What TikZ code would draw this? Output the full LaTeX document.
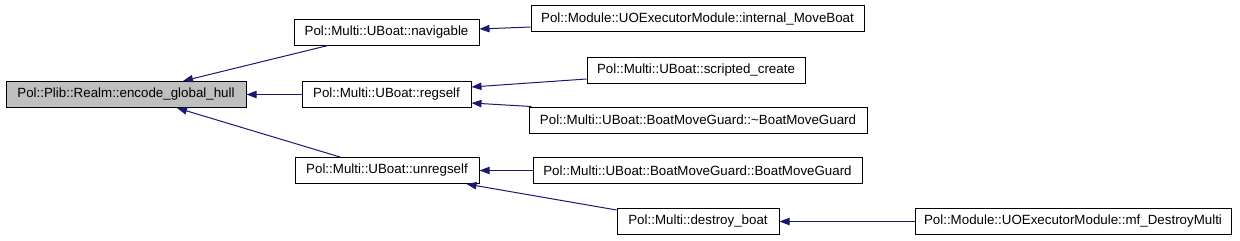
\documentclass[tikz,border=0pt]{standalone}
\usepackage{fontspec}
\setmainfont{Liberation Sans}
\usepackage{xcolor}
\usetikzlibrary{arrows.meta,calc}
\definecolor{edgeblue}{HTML}{191970}
\definecolor{hullgray}{HTML}{BFBFBF}

\begin{document}
\begin{tikzpicture}[x=0.75pt, y=-0.75pt, >={Triangle[length=7.5pt,width=5.5pt]},
  fn/.style={draw, rectangle, line width=0.75pt, minimum height=19.5pt, inner sep=0pt, font=\fontsize{10}{12}\selectfont},
  call/.style={draw=edgeblue, fill=none, line width=0.75pt, ->, >={Triangle[length=7.5pt,width=5.5pt,fill=edgeblue]}}]
  \useasboundingbox (0,0) rectangle (1240,240);
  \node[fn, fill=hullgray, minimum width=180pt](hull) at (126,94.5){Pol::Plib::Realm::encode\_global\_hull};
  \node[fn, minimum width=138.75pt](nav) at (386.5,32){Pol::Multi::UBoat::navigable};
  \node[fn, minimum width=126.75pt](reg) at (386.5,94.5){Pol::Multi::UBoat::regself};
  \node[fn, minimum width=138pt](unreg) at (387,170.5){Pol::Multi::UBoat::unregself};
  \node[fn, minimum width=249.75pt](moveboat) at (697.5,18.5){Pol::Module::UOExecutorModule::internal\_MoveBoat};
  \node[fn, minimum width=163.5pt](screate) at (696,70){Pol::Multi::UBoat::scripted\_create};
  \node[fn, minimum width=253.5pt](dtor) at (698,120){Pol::Multi::UBoat::BoatMoveGuard::\char`\~BoatMoveGuard};
  \node[fn, minimum width=246.75pt](ctor) at (697.5,170.5){Pol::Multi::UBoat::BoatMoveGuard::BoatMoveGuard};
  \node[fn, minimum width=121.5pt](destroy) at (698,221.5){Pol::Multi::destroy\_boat};
  \node[fn, minimum width=237pt](mfdestroy) at (1073,221.5){Pol::Module::UOExecutorModule::mf\_DestroyMulti};
  \draw[call]($(nav.south)+(-58.5,0)$) -- ($(hull.north)+(57,0)$);
  \draw[call](reg.west) -- (hull.east);
  \draw[call]($(unreg.north)+(-47,0)$) -- ($(hull.south)+(51,0)$);
  \draw[call]($(moveboat.west)+(0,8.5)$) -- ($(nav.east)+(0,-3)$);
  \draw[call]($(screate.west)+(0,9)$) -- ($(reg.east)+(0,-7.5)$);
  \draw[call]($(dtor.north west)+(3,0)$) -- ($(reg.east)+(0,8.5)$);
  \draw[call](ctor.west) -- (unreg.east);
  \draw[call]($(destroy.north west)+(0,2)$) -- ($(unreg.south east)+(-13,0)$);
  \draw[call](mfdestroy.west) -- (destroy.east);
\end{tikzpicture}
\end{document}
